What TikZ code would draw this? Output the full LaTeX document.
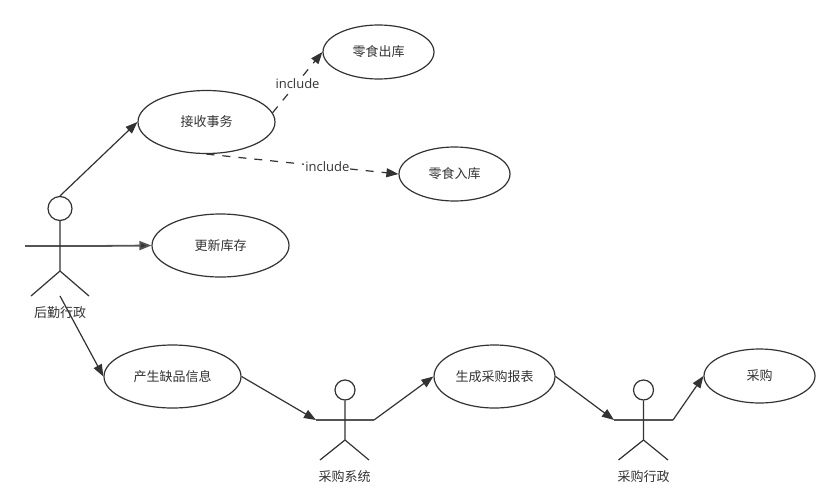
\documentclass[tikz,border=0pt]{standalone}
\usepackage{fontspec}
\setmainfont{Noto Sans CJK SC}
\newfontfamily\latinlabel{Open Sans}
\usetikzlibrary{arrows.meta,shapes.geometric}
\definecolor{ink}{HTML}{333333}
\definecolor{armink}{HTML}{555555}
\tikzset{
  x=1pt,y=-1pt,
  usecase/.style={draw=ink,line width=1.2pt,ellipse,fill=white,inner sep=0pt,text=ink,font=\fontsize{13}{15}\selectfont},
  head/.style={draw=ink,line width=1.2pt,circle,inner sep=0pt,fill=white},
  limb/.style={draw=ink,line width=1.2pt},
  arm/.style={draw=armink,line width=1.8pt},
  link/.style={draw=ink,line width=1.2pt,-{Triangle[length=12pt,width=9pt,fill=ink]}},
  armlink/.style={link,draw=armink,line width=1.8pt},
  inc/.style={link,dash pattern=on 8pt off 8pt},
  actorlabel/.style={text=ink,font=\fontsize{13}{15}\selectfont,inner sep=1pt},
  inclabel/.style={fill=white,text=ink,font=\latinlabel\fontsize{13}{15}\selectfont,inner sep=1pt}
}
\newcommand{\usecasenode}[6]{\node[usecase,minimum width=#4pt,minimum height=#5pt] (#1) at (#2,#3) {#6};}
\begin{document}
\begin{tikzpicture}
\useasboundingbox (0,0) rectangle (840,498);
\fill[white] (0,0) rectangle (840,498);
% use cases
\usecasenode{recv}{206.5}{122}{137}{63}{接收事务}
\usecasenode{out}{378.5}{52}{111}{54}{零食出库}
\usecasenode{inn}{454.5}{174}{111}{54}{零食入库}
\usecasenode{upd}{220.5}{245.5}{137}{63}{更新库存}
\usecasenode{lack}{172.5}{376.5}{137}{63}{产生缺品信息}
\usecasenode{gen}{494.5}{376.5}{121}{63}{生成采购报表}
\usecasenode{buy}{759.5}{376}{111}{54}{采购}
% actor 1
\node[head,minimum size=24pt] (h1) at (60,208.5) {};
\coordinate (a1l) at (25,246); \coordinate (a1r) at (95,246);
\coordinate (b1) at (60,271); \coordinate (f1l) at (31,296); \coordinate (f1r) at (89,296); \coordinate (f1m) at (60,296);
\draw[arm] (a1l) -- (a1r);
\draw[limb] (h1.south) -- (b1) (f1l) -- (b1) -- (f1r);
\node[actorlabel] (t1) at (60,313) {后勤行政};
% actor 2
\node[head,minimum size=20pt] (h2) at (345,390) {};
\coordinate (a2l) at (316,420); \coordinate (a2r) at (374,420);
\coordinate (b2) at (345,440); \coordinate (f2l) at (320,460); \coordinate (f2r) at (369,460);
\draw[arm] (a2l) -- (a2r);
\draw[limb] (h2.south) -- (b2) (f2l) -- (b2) -- (f2r);
\node[actorlabel] (t2) at (344.5,477) {采购系统};
% actor 3
\node[head,minimum size=20pt] (h3) at (643.5,390) {};
\coordinate (a3l) at (614,420); \coordinate (a3r) at (673,420);
\coordinate (b3) at (643.5,440); \coordinate (f3l) at (618.5,460); \coordinate (f3r) at (668,460);
\draw[arm] (a3l) -- (a3r);
\draw[limb] (h3.south) -- (b3) (f3l) -- (b3) -- (f3r);
\node[actorlabel] (t3) at (643.5,477) {采购行政};
% connectors
\draw[link] (h1.north) -- (recv.west);
\draw[armlink] (a1r) -- (upd.west);
\draw[link] (f1m) -- (lack.west);
\draw[link] (lack.east) -- (a2l);
\draw[link] (a2r) -- (gen.west);
\draw[link] (gen.east) -- (a3l);
\draw[link] (a3r) -- (buy.west);
\draw[inc] (recv.8) -- node[inclabel,pos=0.5,yshift=-1.5pt] (i1) {include} (out.west);
\draw[inc] (recv.south) -- node[inclabel,pos=0.63] (i2) {include} (inn.west);
\end{tikzpicture}
\end{document}
